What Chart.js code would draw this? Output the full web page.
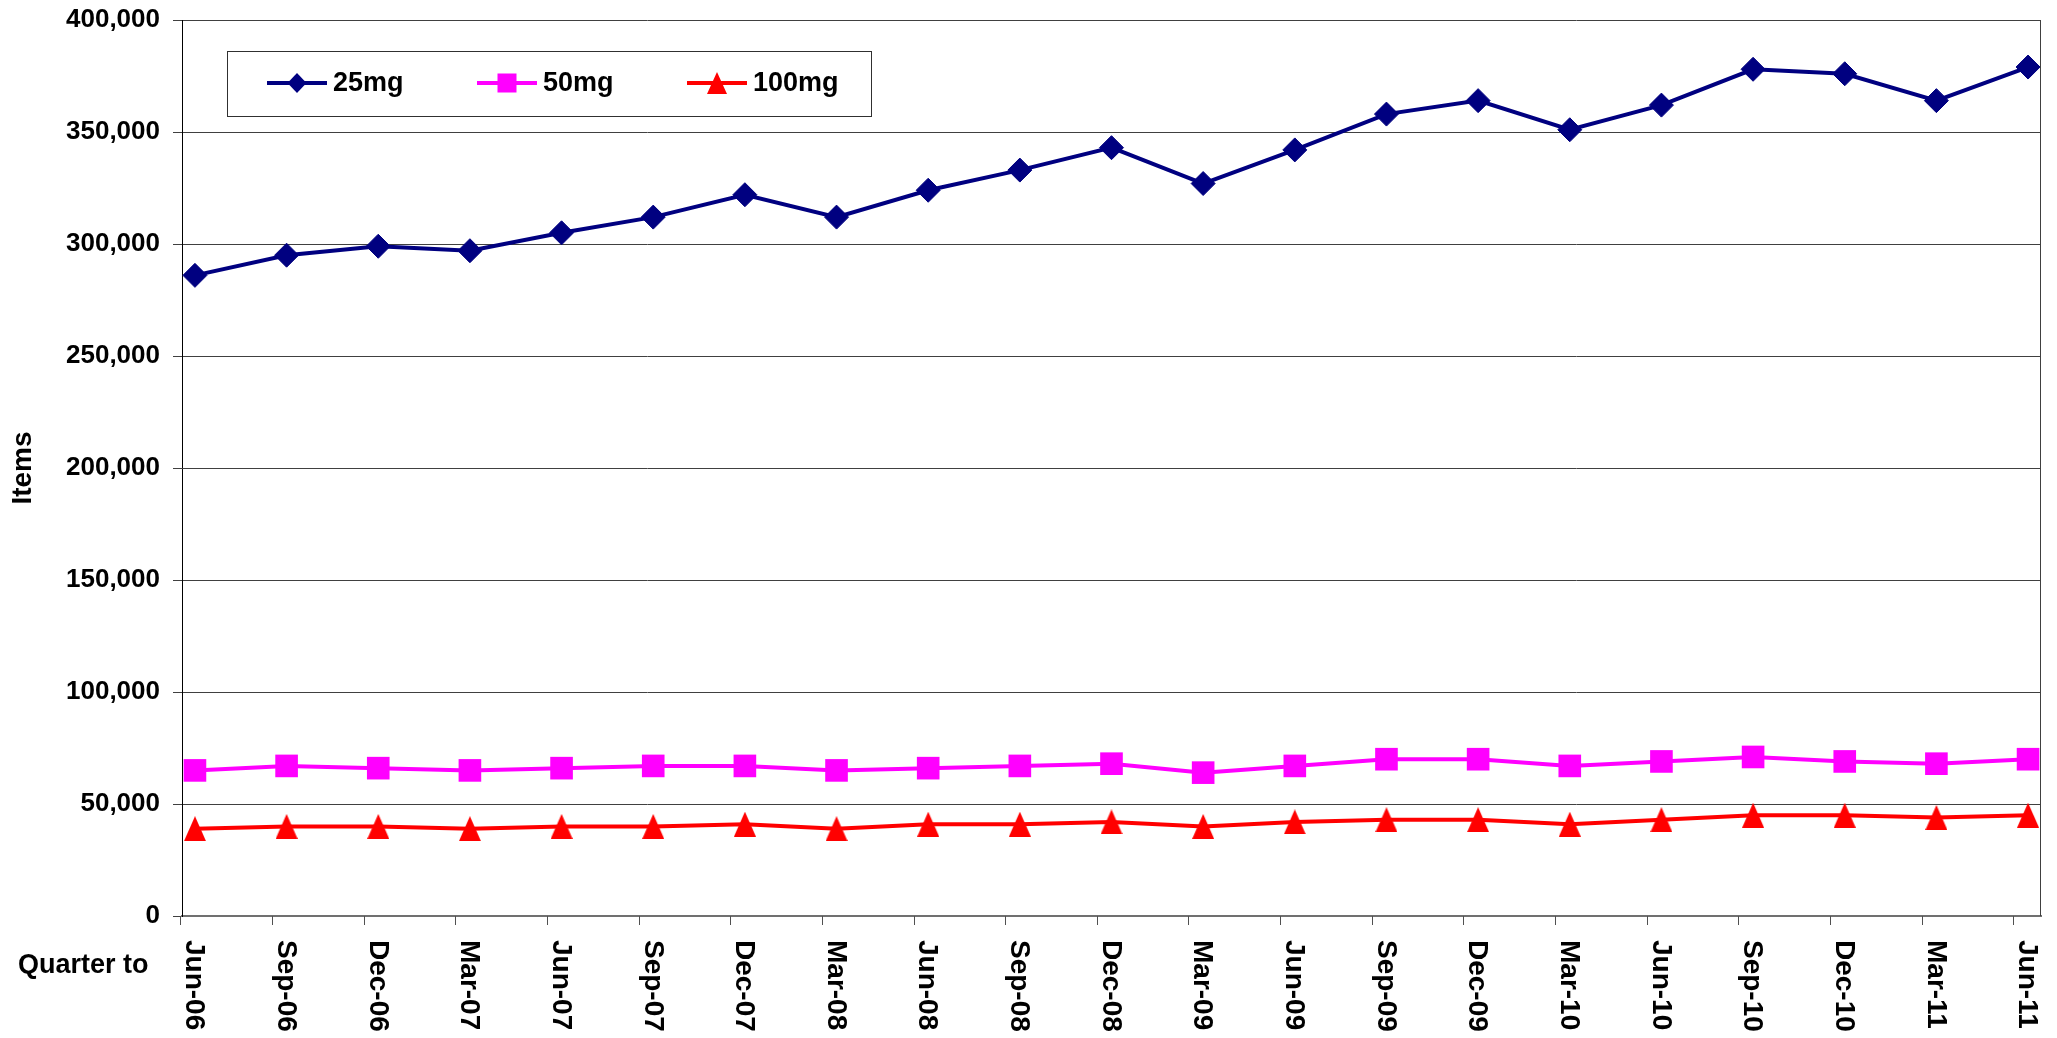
<!DOCTYPE html>
<html><head><meta charset="utf-8">
<script src="https://cdn.jsdelivr.net/npm/chart.js@4.4.0/dist/chart.umd.min.js"></script>
<style>html,body{margin:0;padding:0;background:#fff;overflow:hidden}canvas{display:block}</style>
</head><body>
<canvas id="c" width="2057" height="1038"></canvas>
<script>
const categories = ['Jun-06','Sep-06','Dec-06','Mar-07','Jun-07','Sep-07','Dec-07','Mar-08','Jun-08','Sep-08','Dec-08','Mar-09','Jun-09','Sep-09','Dec-09','Mar-10','Jun-10','Sep-10','Dec-10','Mar-11','Jun-11'];
const yTicks = [0,50000,100000,150000,200000,250000,300000,350000,400000];
const series25 = [286000,295000,299000,297000,305000,312000,322000,312000,324000,333000,343000,327000,342000,358000,364000,351000,362000,378000,376000,364000,379000];
const series50 = [65000,67000,66000,65000,66000,67000,67000,65000,66000,67000,68000,64000,67000,70000,70000,67000,69000,71000,69000,68000,70000];
const series100 = [39000,40000,40000,39000,40000,40000,41000,39000,41000,41000,42000,40000,42000,43000,43000,41000,43000,45000,45000,44000,45000];
const seriesNames = ['25mg','50mg','100mg'];
const seriesColors = ['#000080','#FF00FF','#FF0000'];
const xAxisTitle = 'Quarter to';
const yAxisTitle = 'Items';

const FONT = '"Liberation Sans", Arial, sans-serif';

function triCanvas(w, h, color) {
  const c = document.createElement('canvas');
  c.width = w; c.height = h;
  const g = c.getContext('2d');
  g.fillStyle = color;
  g.beginPath(); g.moveTo(w / 2, 0); g.lineTo(w, h); g.lineTo(0, h); g.closePath(); g.fill();
  return c;
}
const triPlot = triCanvas(22, 25, seriesColors[2]);
const triLegend = triCanvas(20, 22, seriesColors[2]);

const toPoints = vals => vals.map((v, i) => ({x: i, y: v}));

function drawMarker(ctx, kind, x, y, color) {
  ctx.fillStyle = color;
  ctx.beginPath();
  if (kind === 0) {
    ctx.moveTo(x, y - 10); ctx.lineTo(x + 9.5, y); ctx.lineTo(x, y + 10); ctx.lineTo(x - 9.5, y); ctx.closePath(); ctx.fill();
  } else if (kind === 1) {
    ctx.fillRect(x - 9.5, y - 9.5, 19, 19);
  } else {
    ctx.drawImage(triLegend, x - 10, y - 11);
  }
}

const decor = {
  id: 'decor',
  afterDraw(chart) {
    const ctx = chart.ctx, a = chart.chartArea, xs = chart.scales.x;
    ctx.save();
    // right frame
    ctx.strokeStyle = '#404040'; ctx.lineWidth = 1;
    ctx.beginPath(); ctx.moveTo(a.right - 0.5, a.top); ctx.lineTo(a.right - 0.5, a.bottom); ctx.stroke();
    // x tick marks (between category points as in reference)
    ctx.strokeStyle = '#505050'; ctx.lineWidth = 1;
    for (let i = 0; i < categories.length; i++) {
      const px = Math.round(xs.getPixelForValue(i - 0.16)) + 0.5;
      ctx.beginPath(); ctx.moveTo(px, a.bottom); ctx.lineTo(px, a.bottom + 9); ctx.stroke();
    }
    // x category labels, rotated to read downward
    ctx.fillStyle = '#000';
    ctx.font = 'bold 28px ' + FONT;
    ctx.textAlign = 'left'; ctx.textBaseline = 'middle';
    categories.forEach((lab, i) => {
      const px = xs.getPixelForValue(i);
      ctx.save(); ctx.translate(px - 1, 940); ctx.rotate(Math.PI / 2);
      ctx.fillText(lab, 0, 0); ctx.restore();
    });
    // x title
    ctx.font = 'bold 27px ' + FONT;
    ctx.textBaseline = 'alphabetic';
    ctx.fillText(xAxisTitle, 18, 973);
    // legend
    ctx.fillStyle = '#fff';
    ctx.fillRect(227, 51, 644, 65);
    ctx.strokeStyle = '#303030'; ctx.lineWidth = 1;
    ctx.strokeRect(227.5, 51.5, 644, 65);
    seriesNames.forEach((name, k) => {
      const x0 = 267 + k * 210, y0 = 83;
      ctx.strokeStyle = seriesColors[k]; ctx.lineWidth = 4;
      ctx.beginPath(); ctx.moveTo(x0, y0); ctx.lineTo(x0 + 60, y0); ctx.stroke();
      drawMarker(ctx, k, x0 + 30, y0, seriesColors[k]);
      ctx.fillStyle = '#000';
      ctx.font = 'bold 27px ' + FONT;
      ctx.textAlign = 'left'; ctx.textBaseline = 'middle';
      ctx.fillText(name, x0 + 66, y0 + 1);
    });
    ctx.restore();
  }
};

new Chart(document.getElementById('c'), {
  type: 'line',
  data: {
    datasets: [
      {label: seriesNames[0], data: toPoints(series25), borderColor: seriesColors[0], backgroundColor: seriesColors[0], borderWidth: 4, pointStyle: 'rectRot', pointRadius: 12, pointBorderWidth: 1, pointBorderColor: seriesColors[0], pointBackgroundColor: seriesColors[0], tension: 0},
      {label: seriesNames[1], data: toPoints(series50), borderColor: seriesColors[1], backgroundColor: seriesColors[1], borderWidth: 4, pointStyle: 'rect', pointRadius: 16, pointBorderWidth: 0, pointBackgroundColor: seriesColors[1], tension: 0},
      {label: seriesNames[2], data: toPoints(series100), borderColor: seriesColors[2], backgroundColor: seriesColors[2], borderWidth: 4, pointStyle: triPlot, pointRadius: 12, tension: 0}
    ]
  },
  options: {
    responsive: false,
    animation: false,
    devicePixelRatio: 1,
    layout: {padding: {top: 20, right: 8, left: 0, bottom: 0}},
    plugins: {legend: {display: false}, tooltip: {enabled: false}},
    scales: {
      x: {
        type: 'linear', min: -0.1412, max: 20.1412,
        ticks: {display: false},
        grid: {display: false},
        border: {display: true, color: '#707070', width: 2},
        afterFit(s) { s.height = 122; s.paddingLeft = 0; s.paddingRight = 0; }
      },
      y: {
        min: 0, max: 400000,
        afterBuildTicks(s) { s.ticks = yTicks.map(v => ({value: v})); },
        ticks: {font: {family: FONT, size: 26, weight: 'bold'}, color: '#000', padding: 13,
                callback: v => v.toLocaleString('en-US')},
        grid: {color: '#404040', lineWidth: 1, tickLength: 9},
        border: {color: '#000', width: 1},
        title: {display: true, text: yAxisTitle, color: '#000', font: {family: FONT, size: 28, weight: 'bold'}, padding: {top: 6, bottom: 0}},
        afterFit(s) { s.width = 182; s.paddingTop = 0; s.paddingBottom = 0; }
      }
    }
  },
  plugins: [decor]
});
</script>
</body></html>
